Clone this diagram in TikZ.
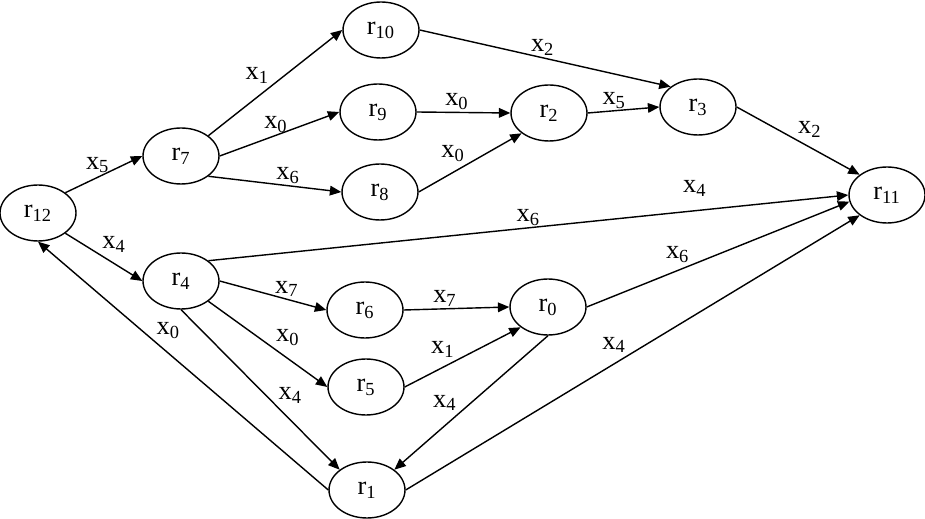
\documentclass[tikz,border=0pt]{standalone}
\usepackage{fontspec}
\setmainfont{Liberation Serif}
\usetikzlibrary{arrows.meta,shapes.geometric}
\newcommand{\vx}[2]{#1\textsubscript{#2}}

\begin{document}
\begin{tikzpicture}[
  x=0.02cm, y=-0.02cm,
  font=\fontsize{15}{18}\selectfont,
  state/.style={draw, ellipse, line width=0.8pt, inner sep=0pt,
                minimum width=1.52cm, minimum height=1.12cm},
  ar/.style={-{Triangle[length=6.5pt,width=5.5pt]}, line width=0.8pt},
  lbl/.style={inner sep=1pt}
]
\useasboundingbox (0,0) rectangle (925,519);
% states
\node[state] (r12) at (38,213) {\vx{r}{12}};
\node[state] (r7) at (181,156) {\vx{r}{7}};
\node[state] (r4) at (181,281) {\vx{r}{4}};
\node[state] (r10) at (381,30) {\vx{r}{10}};
\node[state] (r9) at (378,112) {\vx{r}{9}};
\node[state] (r8) at (380,192) {\vx{r}{8}};
\node[state] (r2) at (549,113) {\vx{r}{2}};
\node[state] (r3) at (698,107) {\vx{r}{3}};
\node[state] (r11) at (887,195) {\vx{r}{11}};
\node[state] (r6) at (365,310) {\vx{r}{6}};
\node[state] (r0) at (548,307) {\vx{r}{0}};
\node[state] (r5) at (366,387) {\vx{r}{5}};
\node[state] (r1) at (367,490) {\vx{r}{1}};

% transitions
\draw[ar] (r12.north east) -- node[lbl, pos=.42, above=1pt] {\vx{x}{5}} (r7.west);
\draw[ar] (r12.south east) -- node[lbl, pos=.45, above right] {\vx{x}{4}} (r4.west);
\draw[ar] (r1.west) -- node[lbl, pos=.6, above right] {\vx{x}{0}} (r12.south);
\draw[ar] (r7.north east) -- node[lbl, pos=.47, above left] {\vx{x}{1}} (r10.west);
\draw[ar] (r7.east) -- node[lbl, pos=.47, above] {\vx{x}{0}} (r9.west);
\draw[ar] (r7.south east) -- node[lbl, pos=.6, above] {\vx{x}{6}} (r8.west);
\draw[ar] (r10.east) -- node[lbl, pos=.49, above] {\vx{x}{2}} (r3.north west);
\draw[ar] (r9.east) -- node[lbl, pos=.43, above] {\vx{x}{0}} (r2.west);
\draw[ar] (r8.east) -- node[lbl, pos=.47, above left] {\vx{x}{0}} (r2.south west);
\draw[ar] (r2.east) -- node[lbl, pos=.37, above] {\vx{x}{5}} (r3.west);
\draw[ar] (r3.east) -- node[lbl, pos=.48, above right] {\vx{x}{2}} (r11.north west);
\draw[ar] (r4.north east) -- node[lbl, pos=.5, above] {\vx{x}{6}}
  node[lbl, pos=.76, above=7pt] {\vx{x}{4}} (r11.west);
\draw[ar] (r0.east) -- node[lbl, pos=.4, above left] {\vx{x}{6}} (r11.190);
\draw[ar] (r1.east) -- node[lbl, pos=.49, above left] {\vx{x}{4}} (r11.south west);
\draw[ar] (r4.east) -- node[lbl, pos=.63, above] {\vx{x}{7}} (r6.west);
\draw[ar] (r4.south east) -- node[lbl, pos=.55, above right] {\vx{x}{0}} (r5.west);
\draw[ar] (r4.south) -- node[lbl, pos=.6, above right] {\vx{x}{4}} (r1.north west);
\draw[ar] (r6.east) -- node[lbl, pos=.39, above] {\vx{x}{7}} (r0.west);
\draw[ar] (r5.east) -- node[lbl, pos=.45, above left] {\vx{x}{1}} (r0.south west);
\draw[ar] (r0.south) -- node[lbl, pos=.58, above left] {\vx{x}{4}} (r1.north east);
\end{tikzpicture}
\end{document}
